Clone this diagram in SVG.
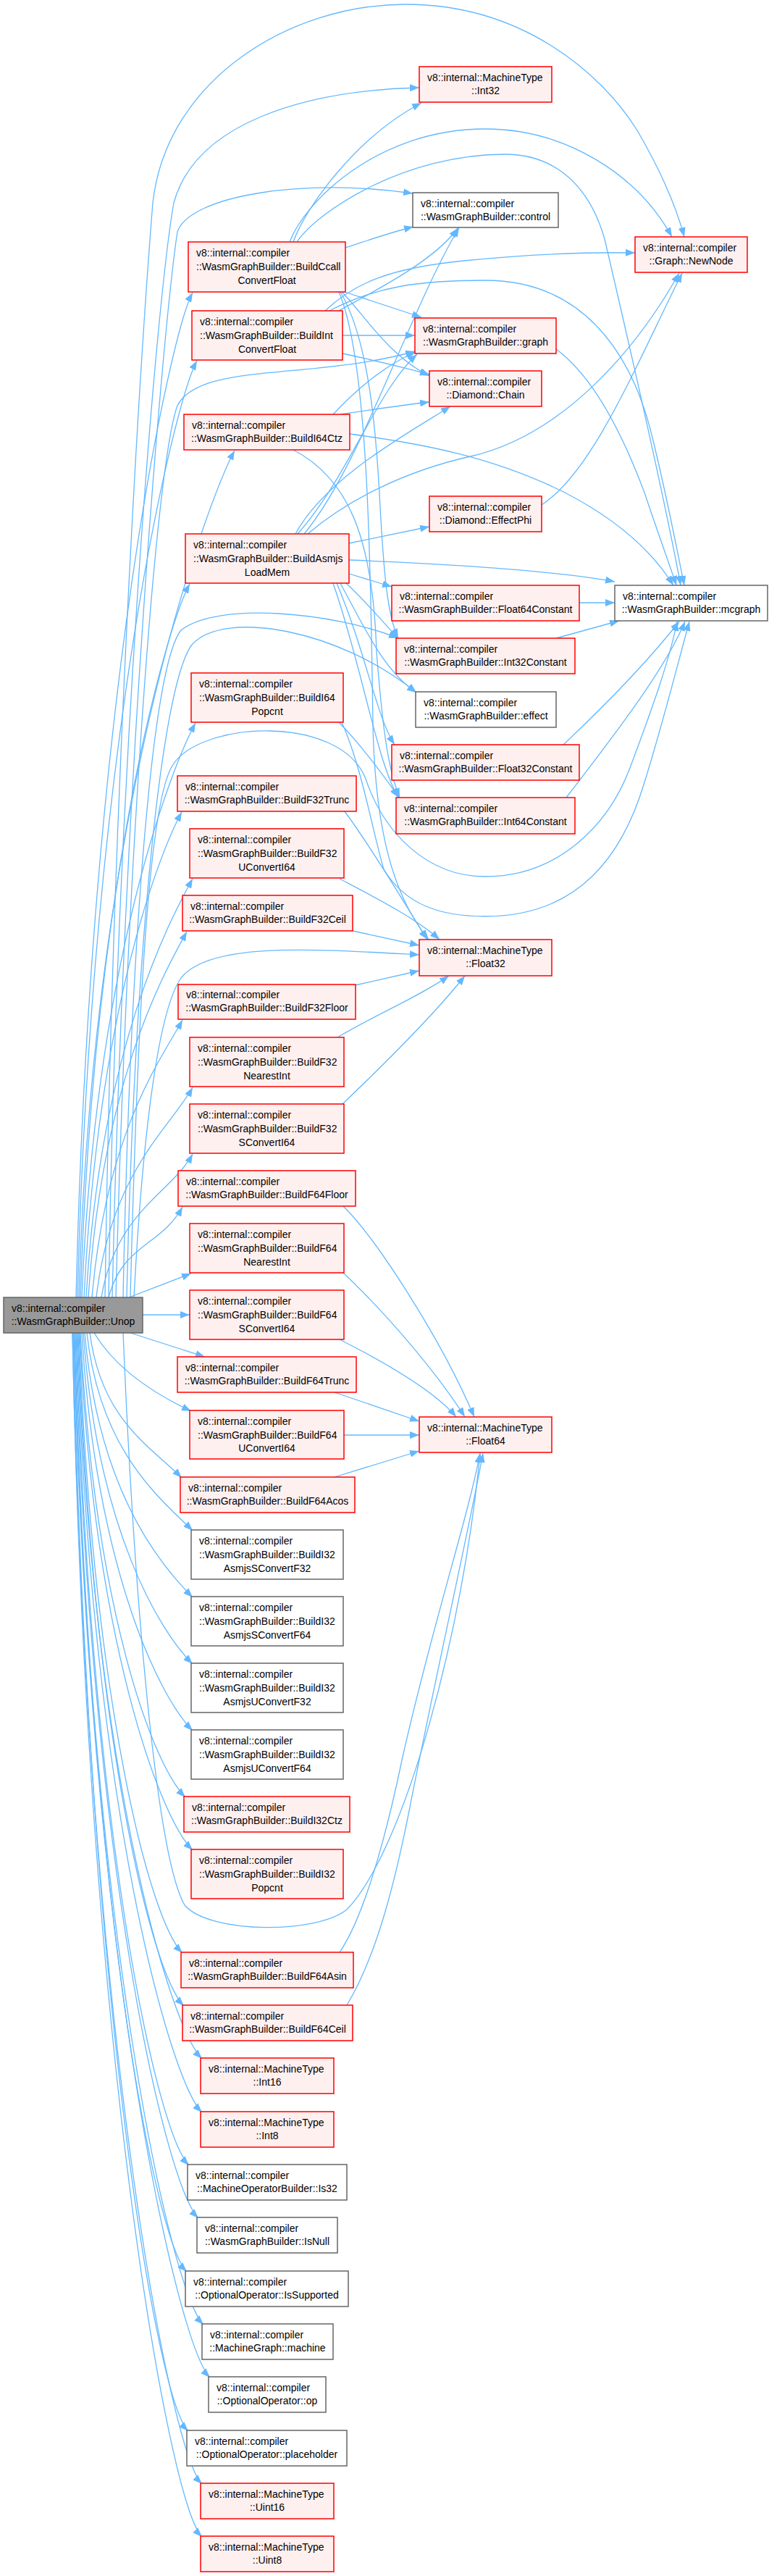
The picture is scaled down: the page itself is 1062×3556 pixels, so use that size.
<svg xmlns="http://www.w3.org/2000/svg" width="1062" height="3556" viewBox="0 0 1062 3556">
<style>
text{font-family:"Liberation Sans",Arial,sans-serif;font-size:14px;fill:#000}
.c{text-anchor:middle}
.r rect{fill:#fff0f0;stroke:#ff0000;stroke-width:1.5}
.w rect{fill:#ffffff;stroke:#666666;stroke-width:1.5}
.root rect{fill:#999999;stroke:#666666;stroke-width:1.5}
#edges path{fill:none;stroke:#63b8ff;stroke-width:1.3;marker-end:url(#ah)}
</style>
<defs>
<marker id="ah" viewBox="0 0 13 10" refX="13" refY="5" markerWidth="13" markerHeight="10" markerUnits="userSpaceOnUse" orient="auto"><path d="M0,0 L13,5 L0,10 z" fill="#63b8ff"/></marker>
</defs>
<rect width="1062" height="3556" fill="#ffffff"/>
<g id="edges">
<path d="M197,1815 L262,1815"/>
<path d="M178,1791 L264,1758"/>
<path d="M150,1791 C170,1716 222,1721 252,1666"/>
<path d="M140,1791 C160,1672 236,1648 266,1593"/>
<path d="M133,1791 C153,1617 236,1556 266,1501"/>
<path d="M127,1791 C147,1561 222,1463 252,1408"/>
<path d="M122,1791 C142,1488 228,1341 258,1286"/>
<path d="M119,1791 C139,1444 236,1268 266,1213"/>
<path d="M116,1791 C136,1389 221,1176 251,1121"/>
<path d="M113,1791 C133,1315 240,1053 270,998"/>
<path d="M111,1791 C131,1199 232,861 262,806"/>
<path d="M109,1791 C129,1090 294,677 324,622"/>
<path d="M107,1791 C127,1015 242,553 272,498"/>
<path d="M105,1791 C125,959 236,459 266,404"/>
<path d="M180,1840 L283,1873"/>
<path d="M130,1840 C160,1890 215,1925 264,1948"/>
<path d="M124,1840 C140,1960 206,1995 251,2040"/>
<path d="M120,1840 C138,2004 221,2068 266,2113"/>
<path d="M117,1840 C136,2059 221,2160 266,2205"/>
<path d="M115,1840 C135,2114 221,2252 266,2297"/>
<path d="M113,1840 C133,2169 221,2344 266,2389"/>
<path d="M111,1840 C131,2224 211,2436 256,2481"/>
<path d="M110,1840 C130,2268 221,2509 266,2554"/>
<path d="M109,1840 C129,2354 207,2651 252,2696"/>
<path d="M108,1840 C128,2397 209,2724 254,2769"/>
<path d="M107,1840 C127,2441 234,2797 279,2842"/>
<path d="M106,1840 C126,2486 234,2871 279,2916"/>
<path d="M105,1840 C125,2529 216,2944 261,2989"/>
<path d="M104,1840 C124,2573 229,3017 274,3062"/>
<path d="M103,1840 C123,2618 213,3091 258,3136"/>
<path d="M102,1840 C122,2661 236,3164 281,3209"/>
<path d="M102,1840 C122,2705 245,3237 290,3282"/>
<path d="M101,1840 C121,2750 215,3311 260,3356"/>
<path d="M100,1840 C120,2793 234,3384 279,3429"/>
<path d="M100,1840 C120,2837 234,3457 279,3502"/>
<path d="M150,1791 C160,1100 215,420 240,280 C270,170 420,125 579,121"/>
<path d="M145,1791 C155,1100 195,480 211,280 C230,110 400,6 560,6 C720,6 830,100 880,180 C915,240 935,290 945,327"/>
<path d="M155,1791 C170,1100 225,450 245,320 C262,270 420,245 570,267"/>
<path d="M160,1791 C175,1200 215,640 245,560 C275,500 430,525 573,485"/>
<path d="M170,1791 C180,1300 210,920 250,870 C300,830 460,845 550,881"/>
<path d="M175,1791 C185,1350 220,950 265,890 C310,840 470,870 575,956"/>
<path d="M180,1791 C190,1400 205,1110 238,1057 C275,995 470,985 505,1075 C530,1150 590,1210 670,1210 C770,1210 840,1140 870,1060 C900,980 925,910 935,858"/>
<path d="M185,1791 C195,1600 215,1400 250,1350 C290,1300 430,1310 579,1318"/>
<path d="M170,1840 C185,2200 215,2560 255,2630 C290,2670 440,2670 480,2635 C560,2550 640,2250 663,2006"/>
<path d="M405,334 C420,290 490,190 582,142"/>
<path d="M400,334 C420,280 520,178 670,178 C780,178 880,240 928,327"/>
<path d="M410,334 C440,290 560,213 697,213 C770,213 815,260 835,330 C870,480 920,700 940,808"/>
<path d="M477,342 C505,333 535,322 571,313"/>
<path d="M476,403 L582,438"/>
<path d="M472,403 C500,430 535,490 593,519"/>
<path d="M470,403 C510,470 520,600 525,700 C530,790 535,850 550,881"/>
<path d="M468,403 C510,500 512,800 515,1000 C518,1150 545,1240 592,1297"/>
<path d="M449,429 C490,390 540,370 640,360 C740,350 820,348 877,349"/>
<path d="M455,429 C520,395 580,387 670,387 C800,387 870,480 900,600 C920,680 935,760 945,808"/>
<path d="M468,429 C520,400 600,360 632,315"/>
<path d="M473,463 L573,463"/>
<path d="M473,488 C520,498 560,508 593,517"/>
<path d="M768,482 C820,520 860,600 890,680 C910,740 925,780 934,808"/>
<path d="M470,572 C510,566 550,560 593,555"/>
<path d="M460,572 C490,540 530,505 574,486"/>
<path d="M483,599 C580,612 680,630 780,680 C850,716 900,760 930,808"/>
<path d="M405,621 C480,660 515,740 520,900 C528,1000 535,1060 552,1101"/>
<path d="M408,737 C450,660 560,600 622,561"/>
<path d="M420,737 C500,640 560,440 634,314"/>
<path d="M411,737 C480,660 520,540 576,489"/>
<path d="M425,737 C480,690 560,650 650,630 C780,600 880,480 938,377"/>
<path d="M482,750 L593,727"/>
<path d="M482,773 C650,780 780,790 849,803"/>
<path d="M482,792 L541,810"/>
<path d="M478,805 C505,830 528,858 550,881"/>
<path d="M470,805 C505,870 530,925 575,956"/>
<path d="M465,805 C505,900 520,990 545,1028"/>
<path d="M460,805 C500,920 520,1050 550,1101"/>
<path d="M748,697 C820,650 880,500 942,377"/>
<path d="M800,832 L849,832"/>
<path d="M768,881 L855,857"/>
<path d="M778,1028 C850,960 905,900 938,858"/>
<path d="M782,1101 C860,1000 920,920 946,858"/>
<path d="M468,997 C500,1030 528,1068 551,1101"/>
<path d="M472,997 C500,1060 515,1150 530,1200 C560,1250 610,1265 670,1265 C800,1265 860,1180 890,1080 C915,1000 935,920 952,858"/>
<path d="M476,1120 C520,1180 560,1250 590,1297"/>
<path d="M469,1213 C520,1240 575,1268 607,1297"/>
<path d="M487,1285 L579,1305"/>
<path d="M491,1360 L579,1340"/>
<path d="M466,1432 C520,1400 580,1375 620,1347"/>
<path d="M473,1524 C540,1460 600,1400 642,1347"/>
<path d="M474,1665 C520,1710 610,1850 655,1956"/>
<path d="M474,1757 C530,1810 600,1890 642,1956"/>
<path d="M469,1849 C530,1880 600,1920 630,1956"/>
<path d="M462,1922 L579,1962"/>
<path d="M475,1981 L579,1981"/>
<path d="M462,2039 L579,2003"/>
<path d="M469,2695 C500,2650 530,2550 555,2430 C595,2250 645,2100 663,2006"/>
<path d="M479,2768 C520,2700 545,2600 565,2500 C600,2320 648,2110 667,2006"/>
</g>
<g id="n1" class="r"><rect x="579" y="92" width="183" height="49"/><text x="590" y="112">v8::internal::MachineType</text><text class="c" x="670.5" y="130">::Int32</text></g>
<g id="n2" class="w"><rect x="570" y="266" width="201" height="48"/><text x="581" y="286">v8::internal::compiler</text><text class="c" x="670.5" y="304">::WasmGraphBuilder::control</text></g>
<g id="n3" class="r"><rect x="877" y="327" width="155" height="49"/><text x="888" y="347">v8::internal::compiler</text><text class="c" x="954.5" y="365">::Graph::NewNode</text></g>
<g id="n4" class="r"><rect x="260" y="334" width="217" height="69"/><text x="271" y="354">v8::internal::compiler</text><text x="271" y="373">::WasmGraphBuilder::BuildCcall</text><text class="c" x="368.5" y="392">ConvertFloat</text></g>
<g id="n5" class="r"><rect x="265" y="429" width="208" height="68"/><text x="276" y="449">v8::internal::compiler</text><text x="276" y="468">::WasmGraphBuilder::BuildInt</text><text class="c" x="369" y="487">ConvertFloat</text></g>
<g id="n6" class="r"><rect x="573" y="439" width="195" height="49"/><text x="584" y="459">v8::internal::compiler</text><text class="c" x="670.5" y="477">::WasmGraphBuilder::graph</text></g>
<g id="n7" class="r"><rect x="593" y="512" width="155" height="49"/><text x="604" y="532">v8::internal::compiler</text><text class="c" x="670.5" y="550">::Diamond::Chain</text></g>
<g id="n8" class="r"><rect x="254" y="572" width="229" height="49"/><text x="265" y="592">v8::internal::compiler</text><text class="c" x="368.5" y="610">::WasmGraphBuilder::BuildI64Ctz</text></g>
<g id="n9" class="r"><rect x="593" y="685" width="155" height="49"/><text x="604" y="705">v8::internal::compiler</text><text class="c" x="670.5" y="723">::Diamond::EffectPhi</text></g>
<g id="n10" class="r"><rect x="256" y="737" width="226" height="68"/><text x="267" y="757">v8::internal::compiler</text><text x="267" y="776">::WasmGraphBuilder::BuildAsmjs</text><text class="c" x="369" y="795">LoadMem</text></g>
<g id="n11" class="r"><rect x="541" y="808" width="259" height="49"/><text x="552" y="828">v8::internal::compiler</text><text class="c" x="670.5" y="846">::WasmGraphBuilder::Float64Constant</text></g>
<g id="n12" class="w"><rect x="849" y="808" width="211" height="49"/><text x="860" y="828">v8::internal::compiler</text><text class="c" x="954.5" y="846">::WasmGraphBuilder::mcgraph</text></g>
<g id="n13" class="r"><rect x="547" y="881" width="247" height="49"/><text x="558" y="901">v8::internal::compiler</text><text class="c" x="670.5" y="919">::WasmGraphBuilder::Int32Constant</text></g>
<g id="n14" class="r"><rect x="264" y="929" width="210" height="68"/><text x="275" y="949">v8::internal::compiler</text><text x="275" y="968">::WasmGraphBuilder::BuildI64</text><text class="c" x="369" y="987">Popcnt</text></g>
<g id="n15" class="w"><rect x="574" y="955" width="194" height="49"/><text x="585" y="975">v8::internal::compiler</text><text class="c" x="671" y="993">::WasmGraphBuilder::effect</text></g>
<g id="n16" class="r"><rect x="541" y="1028" width="259" height="49"/><text x="552" y="1048">v8::internal::compiler</text><text class="c" x="670.5" y="1066">::WasmGraphBuilder::Float32Constant</text></g>
<g id="n17" class="r"><rect x="245" y="1071" width="247" height="49"/><text x="256" y="1091">v8::internal::compiler</text><text class="c" x="368.5" y="1109">::WasmGraphBuilder::BuildF32Trunc</text></g>
<g id="n18" class="r"><rect x="547" y="1101" width="247" height="50"/><text x="558" y="1121">v8::internal::compiler</text><text class="c" x="670.5" y="1139">::WasmGraphBuilder::Int64Constant</text></g>
<g id="n19" class="r"><rect x="262" y="1144" width="213" height="68"/><text x="273" y="1164">v8::internal::compiler</text><text x="273" y="1183">::WasmGraphBuilder::BuildF32</text><text class="c" x="368.5" y="1202">UConvertI64</text></g>
<g id="n20" class="r"><rect x="252" y="1236" width="235" height="49"/><text x="263" y="1256">v8::internal::compiler</text><text class="c" x="369.5" y="1274">::WasmGraphBuilder::BuildF32Ceil</text></g>
<g id="n21" class="r"><rect x="579" y="1297" width="183" height="50"/><text x="590" y="1317">v8::internal::MachineType</text><text class="c" x="670.5" y="1335">::Float32</text></g>
<g id="n22" class="r"><rect x="246" y="1359" width="245" height="48"/><text x="257" y="1378">v8::internal::compiler</text><text class="c" x="368.5" y="1396">::WasmGraphBuilder::BuildF32Floor</text></g>
<g id="n23" class="r"><rect x="262" y="1432" width="213" height="68"/><text x="273" y="1452">v8::internal::compiler</text><text x="273" y="1471">::WasmGraphBuilder::BuildF32</text><text class="c" x="368.5" y="1490">NearestInt</text></g>
<g id="n24" class="r"><rect x="262" y="1524" width="213" height="68"/><text x="273" y="1544">v8::internal::compiler</text><text x="273" y="1563">::WasmGraphBuilder::BuildF32</text><text class="c" x="368.5" y="1582">SConvertI64</text></g>
<g id="n25" class="r"><rect x="246" y="1616" width="245" height="49"/><text x="257" y="1636">v8::internal::compiler</text><text class="c" x="368.5" y="1654">::WasmGraphBuilder::BuildF64Floor</text></g>
<g id="n26" class="r"><rect x="262" y="1689" width="213" height="68"/><text x="273" y="1709">v8::internal::compiler</text><text x="273" y="1728">::WasmGraphBuilder::BuildF64</text><text class="c" x="368.5" y="1747">NearestInt</text></g>
<g id="n27" class="root"><rect x="5" y="1791" width="192" height="49"/><text x="16" y="1811">v8::internal::compiler</text><text class="c" x="101" y="1829">::WasmGraphBuilder::Unop</text></g>
<g id="n28" class="r"><rect x="262" y="1781" width="213" height="68"/><text x="273" y="1801">v8::internal::compiler</text><text x="273" y="1820">::WasmGraphBuilder::BuildF64</text><text class="c" x="368.5" y="1839">SConvertI64</text></g>
<g id="n29" class="r"><rect x="245" y="1873" width="247" height="49"/><text x="256" y="1893">v8::internal::compiler</text><text class="c" x="368.5" y="1911">::WasmGraphBuilder::BuildF64Trunc</text></g>
<g id="n30" class="r"><rect x="262" y="1947" width="213" height="67"/><text x="273" y="1967">v8::internal::compiler</text><text x="273" y="1986">::WasmGraphBuilder::BuildF64</text><text class="c" x="368.5" y="2004">UConvertI64</text></g>
<g id="n31" class="r"><rect x="579" y="1956" width="183" height="49"/><text x="590" y="1976">v8::internal::MachineType</text><text class="c" x="670.5" y="1994">::Float64</text></g>
<g id="n32" class="r"><rect x="249" y="2039" width="241" height="49"/><text x="260" y="2059">v8::internal::compiler</text><text class="c" x="369.5" y="2077">::WasmGraphBuilder::BuildF64Acos</text></g>
<g id="n33" class="w"><rect x="264" y="2112" width="210" height="68"/><text x="275" y="2132">v8::internal::compiler</text><text x="275" y="2151">::WasmGraphBuilder::BuildI32</text><text class="c" x="369" y="2170">AsmjsSConvertF32</text></g>
<g id="n34" class="w"><rect x="264" y="2204" width="210" height="68"/><text x="275" y="2224">v8::internal::compiler</text><text x="275" y="2243">::WasmGraphBuilder::BuildI32</text><text class="c" x="369" y="2262">AsmjsSConvertF64</text></g>
<g id="n35" class="w"><rect x="264" y="2296" width="210" height="68"/><text x="275" y="2316">v8::internal::compiler</text><text x="275" y="2335">::WasmGraphBuilder::BuildI32</text><text class="c" x="369" y="2354">AsmjsUConvertF32</text></g>
<g id="n36" class="w"><rect x="264" y="2388" width="210" height="68"/><text x="275" y="2408">v8::internal::compiler</text><text x="275" y="2427">::WasmGraphBuilder::BuildI32</text><text class="c" x="369" y="2446">AsmjsUConvertF64</text></g>
<g id="n37" class="r"><rect x="254" y="2480" width="229" height="49"/><text x="265" y="2500">v8::internal::compiler</text><text class="c" x="368.5" y="2518">::WasmGraphBuilder::BuildI32Ctz</text></g>
<g id="n38" class="r"><rect x="264" y="2553" width="210" height="68"/><text x="275" y="2573">v8::internal::compiler</text><text x="275" y="2592">::WasmGraphBuilder::BuildI32</text><text class="c" x="369" y="2611">Popcnt</text></g>
<g id="n39" class="r"><rect x="250" y="2695" width="238" height="49"/><text x="261" y="2715">v8::internal::compiler</text><text class="c" x="369" y="2733">::WasmGraphBuilder::BuildF64Asin</text></g>
<g id="n40" class="r"><rect x="252" y="2768" width="235" height="49"/><text x="263" y="2788">v8::internal::compiler</text><text class="c" x="369.5" y="2806">::WasmGraphBuilder::BuildF64Ceil</text></g>
<g id="n41" class="r"><rect x="277" y="2841" width="184" height="49"/><text x="288" y="2861">v8::internal::MachineType</text><text class="c" x="369" y="2879">::Int16</text></g>
<g id="n42" class="r"><rect x="277" y="2915" width="184" height="49"/><text x="288" y="2935">v8::internal::MachineType</text><text class="c" x="369" y="2953">::Int8</text></g>
<g id="n43" class="w"><rect x="259" y="2988" width="220" height="49"/><text x="270" y="3008">v8::internal::compiler</text><text class="c" x="369" y="3026">::MachineOperatorBuilder::Is32</text></g>
<g id="n44" class="w"><rect x="272" y="3061" width="194" height="49"/><text x="283" y="3081">v8::internal::compiler</text><text class="c" x="369" y="3099">::WasmGraphBuilder::IsNull</text></g>
<g id="n45" class="w"><rect x="256" y="3135" width="225" height="49"/><text x="267" y="3155">v8::internal::compiler</text><text class="c" x="368.5" y="3173">::OptionalOperator::IsSupported</text></g>
<g id="n46" class="w"><rect x="279" y="3208" width="181" height="49"/><text x="290" y="3228">v8::internal::compiler</text><text class="c" x="369.5" y="3246">::MachineGraph::machine</text></g>
<g id="n47" class="w"><rect x="288" y="3281" width="162" height="49"/><text x="299" y="3301">v8::internal::compiler</text><text class="c" x="369" y="3319">::OptionalOperator::op</text></g>
<g id="n48" class="w"><rect x="258" y="3355" width="221" height="49"/><text x="269" y="3375">v8::internal::compiler</text><text class="c" x="368.5" y="3393">::OptionalOperator::placeholder</text></g>
<g id="n49" class="r"><rect x="277" y="3428" width="184" height="49"/><text x="288" y="3448">v8::internal::MachineType</text><text class="c" x="369" y="3466">::Uint16</text></g>
<g id="n50" class="r"><rect x="277" y="3501" width="184" height="49"/><text x="288" y="3521">v8::internal::MachineType</text><text class="c" x="369" y="3539">::Uint8</text></g>
</svg>
